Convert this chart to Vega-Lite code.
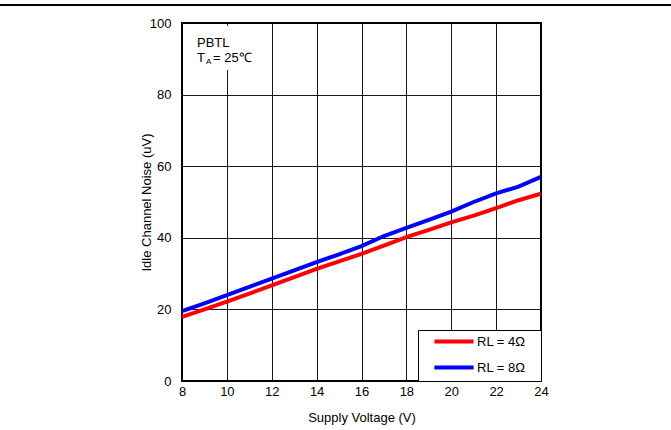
{
  "$schema": "https://vega.github.io/schema/vega-lite/v6.json",
  "width": 359,
  "height": 358,
  "autosize": "none",
  "padding": {"left": 182, "top": 23, "right": 130, "bottom": 49},
  "background": "white",
  "config": {
    "font": "Liberation Sans",
    "view": {"stroke": "#000", "strokeWidth": 2},
    "axis": {
      "labelFont": "Liberation Sans",
      "labelFontSize": 13,
      "labelColor": "#000",
      "titleFont": "Liberation Sans",
      "titleFontSize": 13,
      "titleFontWeight": "normal",
      "titleColor": "#000",
      "ticks": false,
      "domain": false,
      "labelFlush": false,
      "gridColor": "#000",
      "gridOpacity": 0.9,
      "gridWidth": 1
    },
    "legend": {
      "labelFont": "Liberation Sans",
      "labelFontSize": 13,
      "labelColor": "#000"
    }
  },
  "datasets": {
    "curves": [
      {"V": 8, "noise": 17.9, "series": "RL = 4Ω"},
      {"V": 9, "noise": 20.0, "series": "RL = 4Ω"},
      {"V": 10, "noise": 22.2, "series": "RL = 4Ω"},
      {"V": 11, "noise": 24.4, "series": "RL = 4Ω"},
      {"V": 12, "noise": 26.7, "series": "RL = 4Ω"},
      {"V": 13, "noise": 29.0, "series": "RL = 4Ω"},
      {"V": 14, "noise": 31.3, "series": "RL = 4Ω"},
      {"V": 15, "noise": 33.4, "series": "RL = 4Ω"},
      {"V": 16, "noise": 35.5, "series": "RL = 4Ω"},
      {"V": 17, "noise": 37.8, "series": "RL = 4Ω"},
      {"V": 18, "noise": 40.2, "series": "RL = 4Ω"},
      {"V": 19, "noise": 42.2, "series": "RL = 4Ω"},
      {"V": 20, "noise": 44.3, "series": "RL = 4Ω"},
      {"V": 21, "noise": 46.2, "series": "RL = 4Ω"},
      {"V": 22, "noise": 48.3, "series": "RL = 4Ω"},
      {"V": 23, "noise": 50.5, "series": "RL = 4Ω"},
      {"V": 24, "noise": 52.3, "series": "RL = 4Ω"},
      {"V": 8, "noise": 19.5, "series": "RL = 8Ω"},
      {"V": 9, "noise": 21.7, "series": "RL = 8Ω"},
      {"V": 10, "noise": 24.0, "series": "RL = 8Ω"},
      {"V": 11, "noise": 26.3, "series": "RL = 8Ω"},
      {"V": 12, "noise": 28.6, "series": "RL = 8Ω"},
      {"V": 13, "noise": 30.9, "series": "RL = 8Ω"},
      {"V": 14, "noise": 33.2, "series": "RL = 8Ω"},
      {"V": 15, "noise": 35.4, "series": "RL = 8Ω"},
      {"V": 16, "noise": 37.7, "series": "RL = 8Ω"},
      {"V": 17, "noise": 40.5, "series": "RL = 8Ω"},
      {"V": 18, "noise": 42.8, "series": "RL = 8Ω"},
      {"V": 19, "noise": 45.0, "series": "RL = 8Ω"},
      {"V": 20, "noise": 47.3, "series": "RL = 8Ω"},
      {"V": 21, "noise": 50.0, "series": "RL = 8Ω"},
      {"V": 22, "noise": 52.4, "series": "RL = 8Ω"},
      {"V": 23, "noise": 54.3, "series": "RL = 8Ω"},
      {"V": 24, "noise": 57.0, "series": "RL = 8Ω"}
    ]
  },
  "layer": [
    {
      "data": {"name": "curves"},
      "mark": {"type": "line", "strokeWidth": 4, "clip": true},
      "encoding": {
        "x": {
          "field": "V", "type": "quantitative",
          "scale": {"domain": [8, 24], "nice": false, "zero": false},
          "axis": {"values": [8, 10, 12, 14, 16, 18, 20, 22, 24], "title": "Supply Voltage (V)", "labelPadding": 4, "titlePadding": 13}
        },
        "y": {
          "field": "noise", "type": "quantitative",
          "scale": {"domain": [0, 100], "nice": false},
          "axis": {"values": [0, 20, 40, 60, 80, 100], "title": "Idle Channel Noise (uV)", "labelPadding": 11, "titlePadding": -4}
        },
        "color": {
          "field": "series", "type": "nominal",
          "scale": {"domain": ["RL = 4Ω", "RL = 8Ω"], "range": ["#ff0000", "#0000ff"]},
          "legend": {
            "title": null,
            "orient": "bottom-right",
            "offset": 0,
            "padding": 5,
            "symbolType": "M-4.9,0H4.9",
            "symbolSize": 64,
            "symbolStrokeWidth": 4,
            "symbolOffset": 24.5,
            "labelOffset": 16.5,
            "rowPadding": 9,
            "strokeColor": "#000",
            "fillColor": "#fff",
            "labelExpr": "datum.label + '\u2800'"
          }
        }
      }
    },
    {
      "data": {"values": [{}]},
      "mark": {"type": "rect", "color": "#fff", "clip": true},
      "encoding": {
        "x": {"datum": 8.06, "type": "quantitative"},
        "x2": {"datum": 11.6},
        "y": {"datum": 86.9, "type": "quantitative"},
        "y2": {"datum": 99.2}
      }
    },
    {
      "data": {"values": [{}]},
      "mark": {"type": "rule", "clip": false, "color": "#000", "strokeWidth": 2},
      "encoding": {
        "x": {"datum": -1, "type": "quantitative"},
        "x2": {"datum": 31},
        "y": {"datum": 105, "type": "quantitative"}
      }
    },
    {
      "data": {"values": [{}]},
      "mark": {"type": "text", "align": "left", "baseline": "alphabetic", "fontSize": 13, "font": "Liberation Sans", "color": "#000"},
      "encoding": {
        "x": {"datum": 8.67, "type": "quantitative"},
        "y": {"datum": 93.3, "type": "quantitative"},
        "text": {"value": "PBTL"}
      }
    },
    {
      "data": {"values": [{}]},
      "mark": {"type": "text", "align": "left", "baseline": "alphabetic", "fontSize": 13, "font": "Liberation Sans", "color": "#000"},
      "encoding": {
        "x": {"datum": 8.67, "type": "quantitative"},
        "y": {"datum": 89.2, "type": "quantitative"},
        "text": {"value": "T"}
      }
    },
    {
      "data": {"values": [{}]},
      "mark": {"type": "text", "align": "left", "baseline": "alphabetic", "fontSize": 8, "font": "Liberation Sans", "color": "#000"},
      "encoding": {
        "x": {"datum": 9.07, "type": "quantitative"},
        "y": {"datum": 88.6, "type": "quantitative"},
        "text": {"value": "A"}
      }
    },
    {
      "data": {"values": [{}]},
      "mark": {"type": "text", "align": "left", "baseline": "alphabetic", "fontSize": 13, "font": "Liberation Sans", "color": "#000"},
      "encoding": {
        "x": {"datum": 9.38, "type": "quantitative"},
        "y": {"datum": 89.2, "type": "quantitative"},
        "text": {"value": "= 25℃"}
      }
    }
  ]
}
